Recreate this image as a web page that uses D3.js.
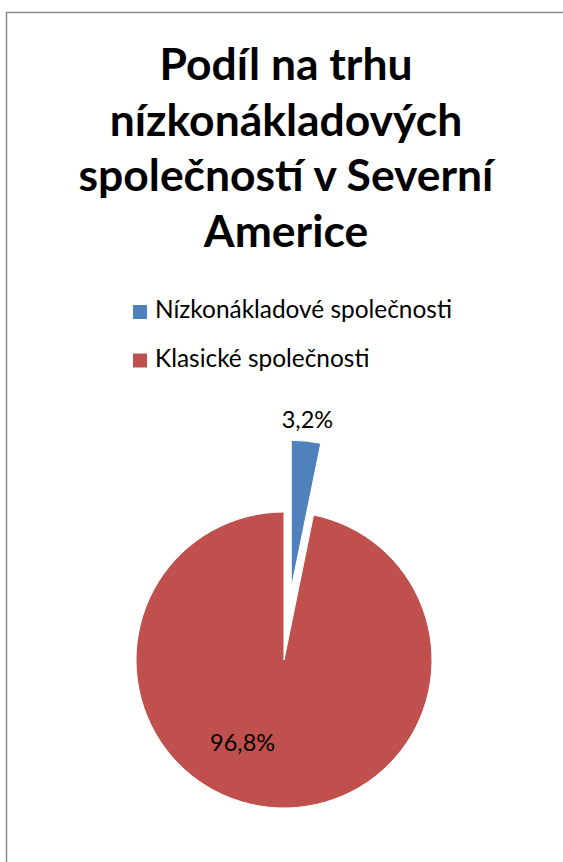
<!DOCTYPE html>
<html>
<head>
<meta charset="utf-8">
<script src="https://cdn.jsdelivr.net/npm/d3@7"></script>
<style>
  html, body { margin: 0; padding: 0; background: #fff; }
  svg { display: block; }
</style>
</head>
<body>
<svg id="chart" width="563" height="862"></svg>
<script>
// ---- data ----
const titleLines = ["Podíl na trhu", "nízkonákladových", "společností v Severní", "Americe"];
const categories = ["Nízkonákladové společnosti", "Klasické společnosti"];
const values = [3.2, 96.8];
const valueLabels = ["3,2%", "96,8%"];
const colors = ["#4F81BD", "#C0504D"];

// ---- layout ----
const W = 563, H = 862;
const cx = 284, cy = 660, R = 148;
const explode = [72, 0];
const font = "Lato, 'Open Sans', sans-serif";

const svg = d3.select("#chart");

// border (extends past the window on right/bottom)
svg.append("rect")
  .attr("x", 6.5).attr("y", 12.5)
  .attr("width", 700).attr("height", 1000)
  .attr("fill", "#fff")
  .attr("stroke", "#8a8a8a").attr("stroke-width", 1.5);

function fit(sel, target) {
  sel.style("font-size", "100px");
  const w = sel.node().getComputedTextLength();
  sel.style("font-size", (100 * target / w) + "px");
}

// title
const titleG = svg.append("g");
const tl = titleG.selectAll("text").data(titleLines).join("text")
  .attr("x", 286)
  .attr("y", (d, i) => 80 + i * 55.5)
  .attr("text-anchor", "middle")
  .style("font-family", font)
  .style("font-weight", "bold")
  .attr("fill", "#000")
  .text(d => d);
// fit to widest line (line 3 measured ~415px)
{
  const n = tl.nodes()[2];
  d3.select(n).style("font-size", "100px");
  const w = n.getComputedTextLength();
  tl.style("font-size", (100 * 415 / w) + "px");
}

// legend
const legend = svg.append("g");
const lg = legend.selectAll("g").data(categories).join("g")
  .attr("transform", (d, i) => `translate(133, ${305 + i * 48.5})`);
lg.append("rect").attr("width", 14).attr("height", 14)
  .attr("fill", (d, i) => colors[i]);
const lt = lg.append("text")
  .attr("x", 22).attr("y", 13)
  .style("font-family", font)
  .attr("fill", "#000")
  .text(d => d);
{
  const n = lt.nodes()[0];
  d3.select(n).style("font-size", "100px");
  const w = n.getComputedTextLength();
  lt.style("font-size", (100 * 297 / w) + "px");
}

// pie
const pie = d3.pie().sort(null).value(d => d)(values);
const arc = d3.arc().innerRadius(0).outerRadius(R);
const pg = svg.append("g").attr("transform", `translate(${cx},${cy})`);
pg.selectAll("path").data(pie).join("path")
  .attr("transform", (d, i) => {
    const a = (d.startAngle + d.endAngle) / 2;
    return `translate(${explode[i] * Math.sin(a)},${-explode[i] * Math.cos(a)})`;
  })
  .attr("d", arc)
  .attr("fill", (d, i) => colors[i])
  .attr("stroke", "#fff").attr("stroke-width", 1);

// data labels (polar placement: radius & angular shift per slice)
const labelRadius = [R + 72 + 13, 100];
const labelShift = [0, 18.7 * Math.PI / 180];
const lbl = pg.selectAll("text.lbl").data(pie).join("text")
  .attr("class", "lbl")
  .attr("x", (d, i) => labelRadius[i] * Math.sin((d.startAngle + d.endAngle) / 2 + labelShift[i]))
  .attr("y", (d, i) => -labelRadius[i] * Math.cos((d.startAngle + d.endAngle) / 2 + labelShift[i]))
  .attr("text-anchor", "middle")
  .style("font-family", font)
  .attr("fill", "#000")
  .text((d, i) => valueLabels[i]);
{
  const n = lbl.nodes()[1];
  d3.select(n).style("font-size", "100px");
  const w = n.getComputedTextLength();
  lbl.style("font-size", (100 * 65 / w) + "px");
}
</script>
</body>
</html>
